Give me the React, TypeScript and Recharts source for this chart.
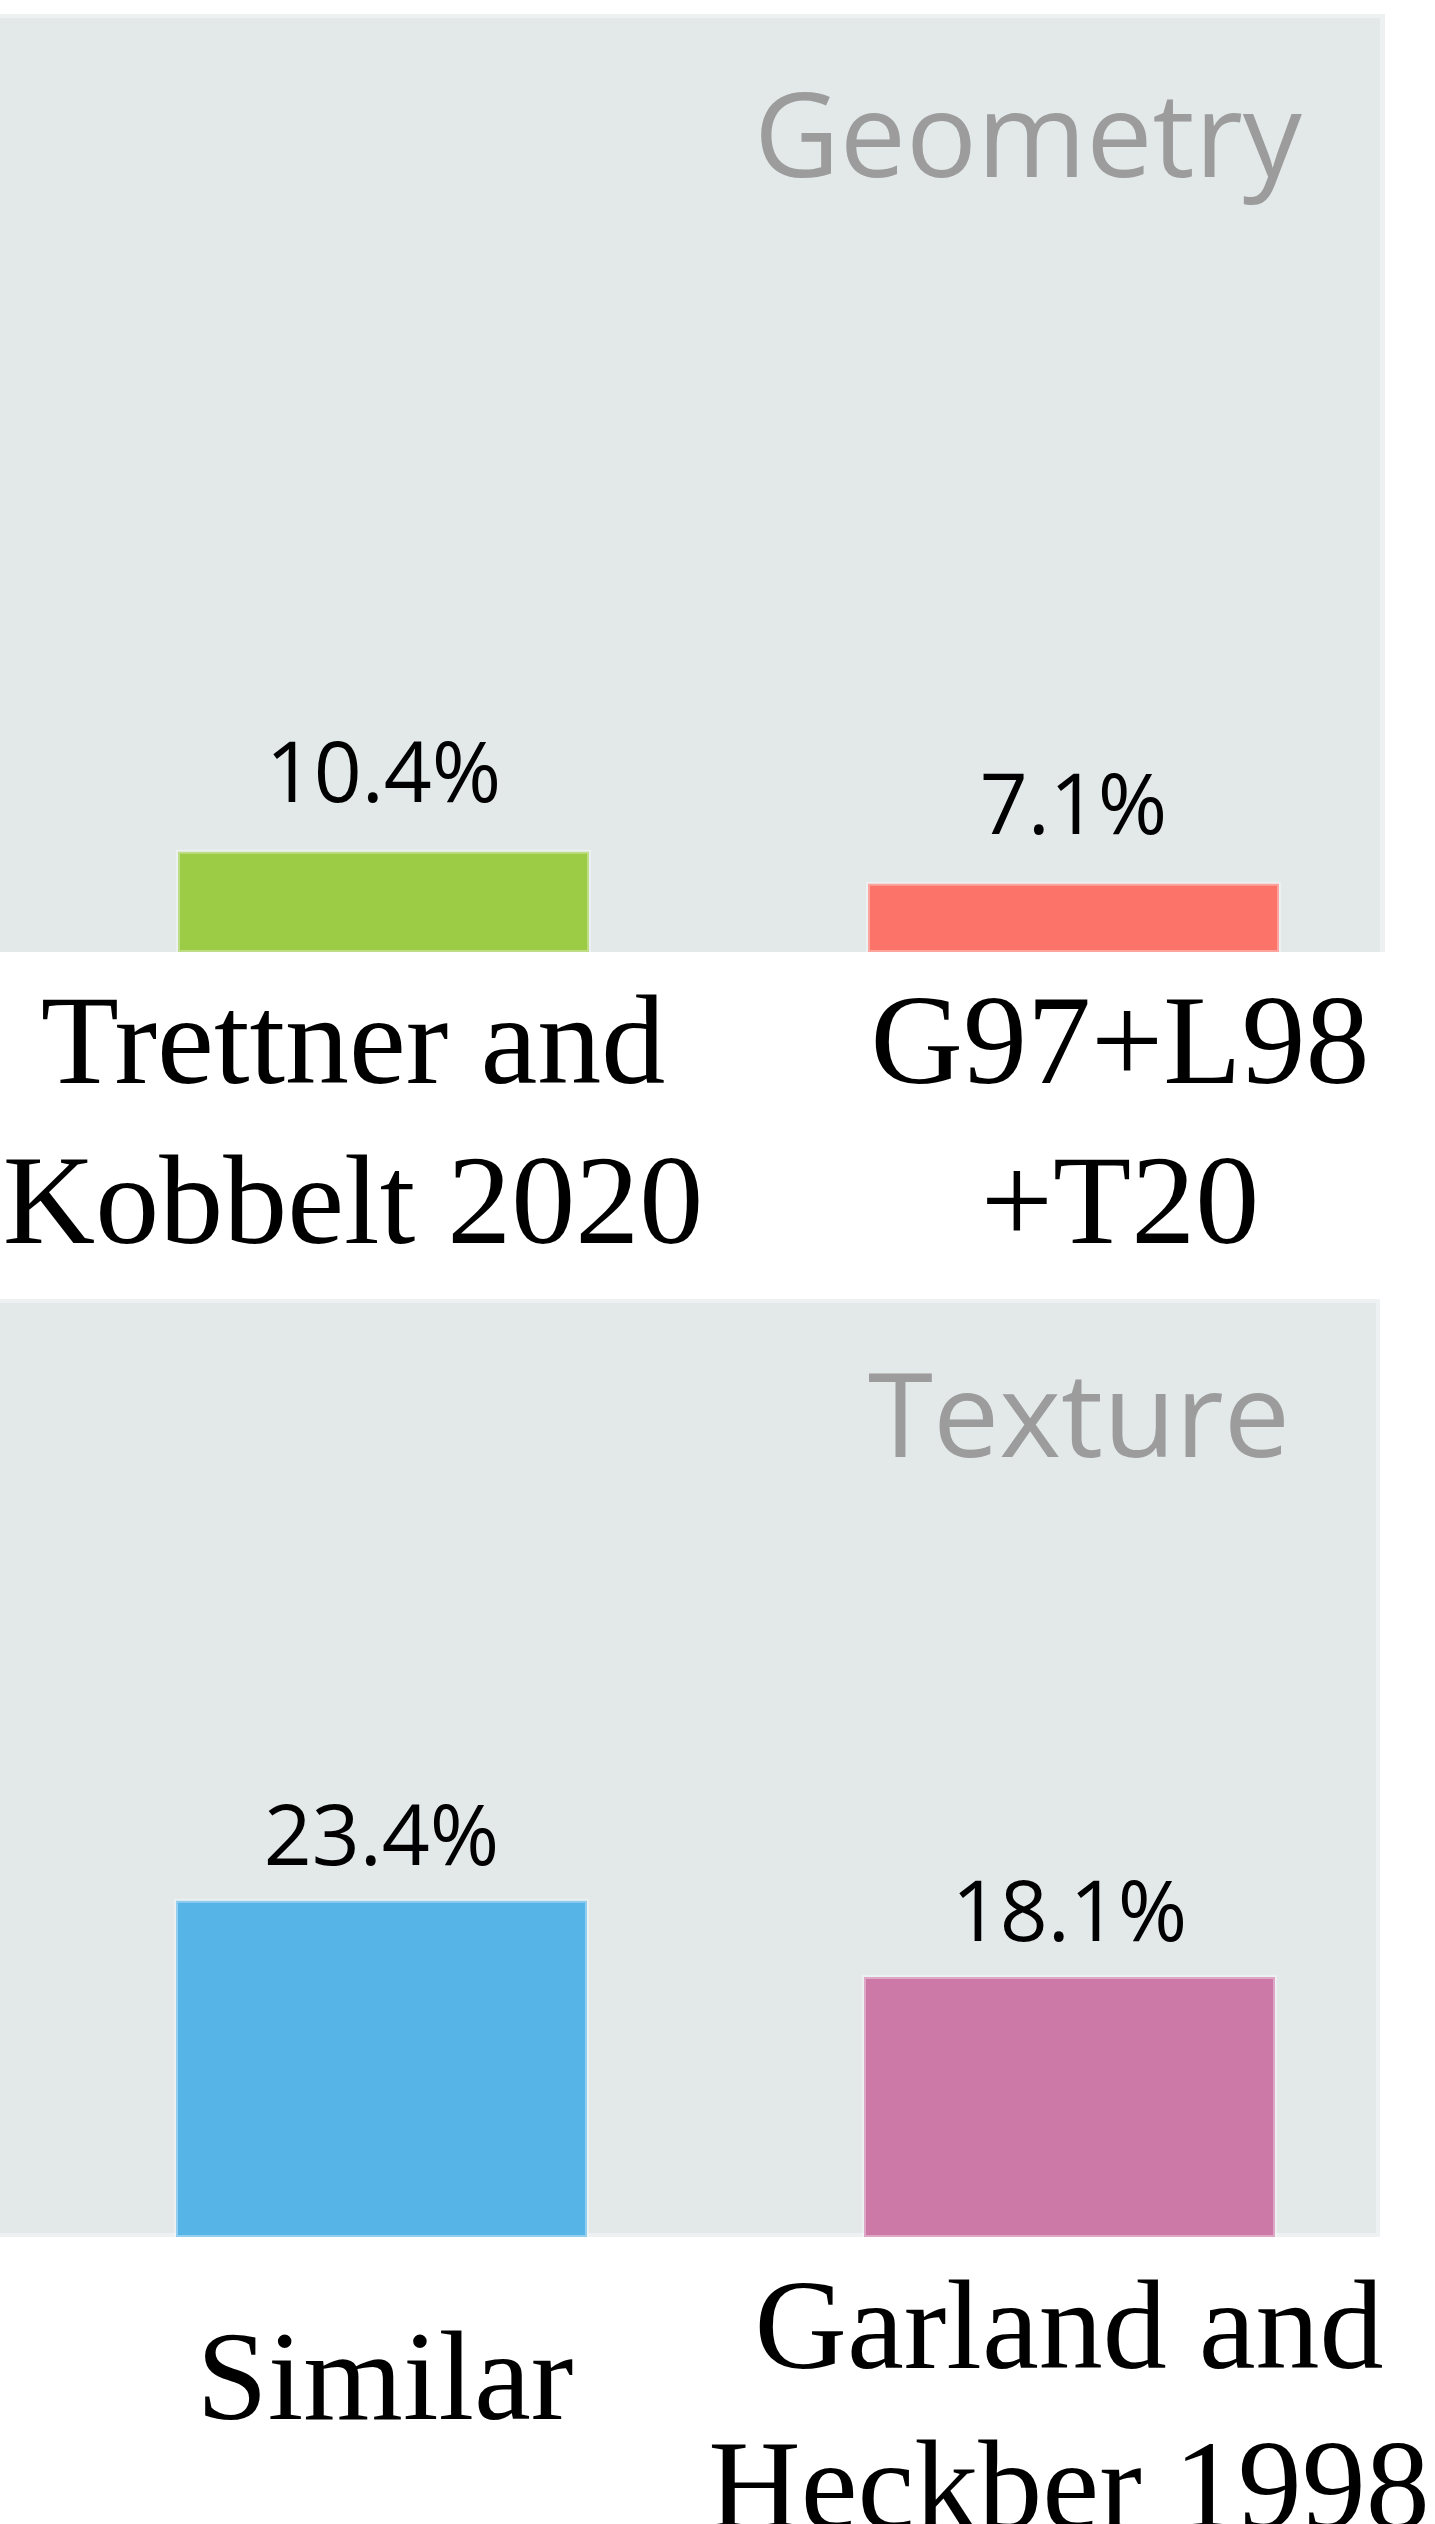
import { BarChart, Bar, XAxis, YAxis, Cell, LabelList } from "recharts";

const geometryMethods = ["Trettner and\nKobbelt 2020", "G97+L98\n+T20"];
const geometryShares = [10.4, 7.1];
const textureMethods = ["Similar", "Garland and\nHeckber 1998"];
const textureShares = [23.4, 18.1];

const geometryColors = ["#9ccc46", "#fc736a"];
const textureColors = ["#57b4e7", "#cc79a7"];

const PANEL_BG = "#e3e8e8";
const PANEL_EDGE = "#edf1f1";
const SANS = "'Open Sans', 'Noto Sans', sans-serif";
const SERIF = "'Liberation Serif', 'Times New Roman', serif";

function MethodTick({ x, y, payload, index, shifts }: any) {
  const lines = String(payload.value).split("\n");
  const cx = x + (shifts?.[index] ?? 0);
  // one-line names sit lower than the first line of two-line names
  const firstDy = lines.length === 1 ? 182 : 131;
  return (
    <text x={cx} y={y} textAnchor="middle" fontFamily={SERIF} fontSize={128} fill="#000">
      {lines.map((line, i) => (
        <tspan key={i} x={cx} dy={i === 0 ? firstDy : 160}>
          {line}
        </tspan>
      ))}
    </text>
  );
}

interface PanelProps {
  methods: string[];
  shares: number[];
  colors: string[];
  top: number;
  height: number;
  margin: { top: number; left: number; right: number; bottom: number };
  axisHeight: number;
  yMax: number;
  labelGap: number;
  tickShifts: number[];
}

function Panel({ methods, shares, colors, top, height, margin, axisHeight, yMax, labelGap, tickShifts }: PanelProps) {
  const data = methods.map((m, i) => ({ method: m, share: shares[i] }));
  return (
    <div style={{ position: "absolute", left: 0, top }}>
      <BarChart width={1435} height={height} data={data} margin={margin}>
        <XAxis
          dataKey="method"
          axisLine={false}
          tickLine={false}
          tickSize={0}
          tickMargin={0}
          height={axisHeight}
          interval={0}
          tick={<MethodTick shifts={tickShifts} />}
        />
        <YAxis hide domain={[0, yMax]} />
        <Bar
          dataKey="share"
          barSize={411}
          stroke="#ffffff"
          strokeOpacity={0.35}
          strokeWidth={4}
          isAnimationActive={false}
        >
          {data.map((d, i) => (
            <Cell key={d.method} fill={colors[i]} />
          ))}
          <LabelList
            dataKey="share"
            position="top"
            offset={labelGap}
            formatter={(v: any) => `${v}%`}
            style={{ fontFamily: SANS, fontSize: 84, fill: "#000" }}
          />
        </Bar>
      </BarChart>
    </div>
  );
}

export default function App() {
  return (
    <div style={{ position: "relative", width: 1435, height: 2524, background: "#fff", overflow: "hidden" }}>
      <style>{"body{margin:0}"}</style>
      <div
        style={{
          position: "absolute",
          left: 0,
          top: 14,
          width: 1385,
          height: 938,
          boxSizing: "border-box",
          background: PANEL_BG,
          borderTop: `4px solid ${PANEL_EDGE}`,
          borderRight: `5px solid ${PANEL_EDGE}`,
        }}
      />
      <div
        style={{
          position: "absolute",
          left: 0,
          top: 1299,
          width: 1380,
          height: 938,
          boxSizing: "border-box",
          background: PANEL_BG,
          border: `4px solid ${PANEL_EDGE}`,
          borderLeft: "none",
        }}
      />
      <Panel
        methods={geometryMethods}
        shares={geometryShares}
        colors={geometryColors}
        top={0}
        height={1290}
        margin={{ top: 18, left: 38, right: 17, bottom: 0 }}
        axisHeight={338}
        yMax={97}
        labelGap={50}
        tickShifts={[-30, 47]}
      />
      <Panel
        methods={textureMethods}
        shares={textureShares}
        colors={textureColors}
        top={1290}
        height={1234}
        margin={{ top: 13, left: 37, right: 22, bottom: 0 }}
        axisHeight={287}
        yMax={65}
        labelGap={36}
        tickShifts={[4, 0]}
      />
      <svg width={1435} height={2524} style={{ position: "absolute", left: 0, top: 0, pointerEvents: "none" }}>
        <text x={1302} y={177} textAnchor="end" fontFamily={SANS} fontSize={118} fill="#9c9c9c">
          Geometry
        </text>
        <text x={1290} y={1457} textAnchor="end" fontFamily={SANS} fontSize={118} fill="#9c9c9c">
          Texture
        </text>
      </svg>
    </div>
  );
}
